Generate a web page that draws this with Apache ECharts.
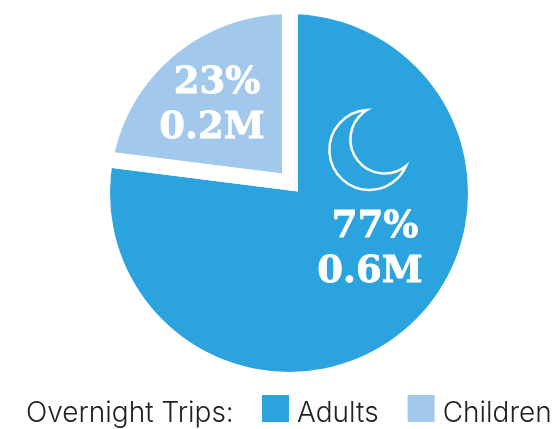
<!DOCTYPE html>
<html>
<head>
<meta charset="utf-8">
<style>html,body{margin:0;padding:0;background:#fff}#chart{width:560px;height:429px}</style>
<script src="https://cdn.jsdelivr.net/npm/echarts@6/dist/echarts.min.js"></script>
</head>
<body>
<div id="chart"></div>
<script>
// Overnight trips split by traveller type
const categories = ['Adults', 'Children'];
const sharePercent = [77, 23];
const tripLabels = ['0.6M', '0.2M'];
const sliceColors = ['#2ba3de', '#a2c9ec'];
const legendHeading = 'Overnight Trips:';

const labelSpots = [{ x: 370, y: 250 }, { x: 212, y: 106 }];
const textFont = 'Inter';
const moonPath = 'M367 110 A40 40 0 1 0 406 166 A34.2 34.2 0 1 1 367 110 Z';

const labelText = {
  fontFamily: 'DejaVu Serif',
  fontWeight: 'bold',
  fontSize: 37,
  lineHeight: 45,
  color: '#ffffff',
  textBorderColor: '#ffffff',
  textBorderWidth: 0.8
};

const chart = echarts.init(document.getElementById('chart'), null, { renderer: 'canvas' });
chart.setOption({
  animation: false,
  backgroundColor: '#ffffff',
  title: {
    text: legendHeading,
    left: 26,
    top: 400,
    padding: 0,
    textStyle: { fontFamily: textFont, fontSize: 28, fontWeight: 300, color: '#222222' }
  },
  legend: {
    data: categories,
    left: 262,
    top: 395,
    padding: 0,
    z: 4,
    icon: 'rect',
    itemWidth: 27,
    itemHeight: 27,
    itemGap: 29,
    selectedMode: false,
    itemStyle: { borderWidth: 0 },
    formatter: name => '{entry|' + name + '}',
    textStyle: {
      rich: {
        entry: { fontFamily: textFont, fontSize: 28, fontWeight: 300, color: '#222222', padding: [10, 0, 0, 3] }
      }
    }
  },
  series: [{
    type: 'pie',
    center: [290, 182.5],
    radius: 198,
    startAngle: 90,
    clockwise: true,
    z: 2,
    silent: true,
    itemStyle: { borderColor: '#ffffff', borderWidth: 16, borderJoin: 'miter', borderMiterLimit: 40 },
    label: {
      show: true,
      position: 'inside',
      align: 'center',
      formatter: p => '{pct|' + p.value + '%}\n{trips|' + tripLabels[p.dataIndex] + '}',
      rich: {
        pct: Object.assign({ padding: [0, 0, 0, 10] }, labelText),
        trips: labelText
      }
    },
    labelLine: { show: false },
    labelLayout: p => ({ x: labelSpots[p.dataIndex].x, y: labelSpots[p.dataIndex].y, align: 'center', verticalAlign: 'middle' }),
    data: categories.map((name, i) => ({
      name,
      value: sharePercent[i],
      itemStyle: { color: sliceColors[i] }
    }))
  }, {
    // Crescent moon icon
    type: 'custom',
    coordinateSystem: 'none',
    silent: true,
    z: 5,
    data: [0],
    renderItem: () => ({
      type: 'path',
      shape: { pathData: moonPath },
      style: { fill: 'none', stroke: '#ffffff', lineWidth: 2.5, lineJoin: 'miter', miterLimit: 20 }
    })
  }],
  graphic: [
    // Trims the slices to the round outline of the disc
    {
      type: 'ring',
      silent: true,
      z: 3,
      shape: { cx: 289, cy: 193, r: 215, r0: 179 },
      style: { fill: '#ffffff' }
    }
  ]
});
</script>
</body>
</html>
